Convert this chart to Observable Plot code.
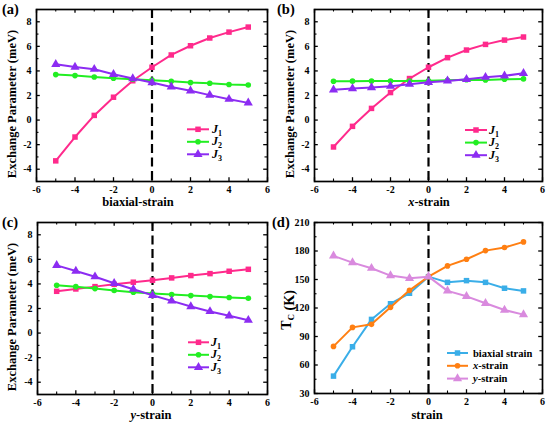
<!DOCTYPE html>
<html>
<head>
<meta charset="utf-8">
<script src="https://cdn.jsdelivr.net/npm/d3@7"></script>
<script src="https://cdn.jsdelivr.net/npm/@observablehq/plot@0.6"></script>
<style>
  html, body { margin: 0; padding: 0; background: #fff; }
  #wrap { position: relative; width: 550px; height: 426px; background: #fff; overflow: hidden; }
  .panel { position: absolute; width: 275px; height: 213px; }
</style>
</head>
<body>
<div id="wrap"></div>
<script>
const FONT = '"Liberation Serif", "Times New Roman", serif';

// ---- data ----
const strain = [-5, -4, -3, -2, -1, 0, 1, 2, 3, 4, 5];

const biaxialJ1 = [-3.32, -1.38, 0.38, 1.86, 3.2, 4.3, 5.3, 6.05, 6.68, 7.16, 7.57];
const biaxialJ2 = [3.7, 3.62, 3.51, 3.4, 3.32, 3.25, 3.16, 3.05, 3.0, 2.9, 2.86];
const biaxialJ3 = [4.54, 4.32, 4.14, 3.73, 3.38, 3.05, 2.7, 2.38, 2.03, 1.7, 1.4];

const xStrainJ1 = [-2.19, -0.51, 0.95, 2.24, 3.38, 4.3, 5.08, 5.7, 6.16, 6.51, 6.76];
const xStrainJ2 = [3.16, 3.17, 3.18, 3.18, 3.18, 3.2, 3.24, 3.28, 3.27, 3.32, 3.35];
const xStrainJ3 = [2.46, 2.57, 2.65, 2.76, 2.92, 3.08, 3.19, 3.32, 3.49, 3.6, 3.81];

const yStrainJ1 = [3.4, 3.59, 3.78, 3.97, 4.14, 4.3, 4.49, 4.68, 4.84, 5.03, 5.19];
const yStrainJ2 = [3.89, 3.78, 3.62, 3.46, 3.32, 3.22, 3.14, 3.05, 2.97, 2.89, 2.84];
const yStrainJ3 = [5.51, 5.05, 4.59, 4.05, 3.57, 3.08, 2.62, 2.16, 1.76, 1.41, 1.05];

const tcBiaxial = [48.3, 79.2, 108, 124.5, 135.5, 153, 147, 148.8, 147, 140.8, 138];
const tcXStrain = [79.6, 99.6, 102.8, 120.7, 138.6, 153, 164.3, 171.3, 180.4, 183.7, 189.6];
const tcYStrain = [174.9, 167.8, 161.9, 154.1, 151.3, 153, 138, 132.3, 125, 117.9, 113];

const xTicks = [-6, -4, -2, 0, 2, 4, 6];
const xMinor = [-5, -3, -1, 1, 3, 5];
const jTicks = [-4, -2, 0, 2, 4, 6, 8];
const jMinor = [-5, -3, -1, 1, 3, 5, 7, 9];
const tcTicks = [30, 60, 90, 120, 150, 180, 210];
const tcMinor = [45, 75, 105, 135, 165, 195];

const jNames = [["J", "1"], ["J", "2"], ["J", "3"]];
const jColors = ["#ff2a8c", "#22ee22", "#8c2cf2"];
const jSymbols = ["square", "circle", "triangle"];
const tcNames = [[["biaxial strain", false]], [["x", true], ["-strain", false]], [["y", true], ["-strain", false]]];
const tcColors = ["#3aaee8", "#ff7f12", "#d98ade"];

function panel(cfg) {
  const W = 275, H = 213;
  const {ml, mr, mt, mb} = cfg;
  const pw = W - ml - mr, ph = H - mt - mb;
  const marks = [];
  const edgeTicks = (xs, ys, len, sw) => [
    Plot.tickX(xs, {x: d => d, insetTop: ph - len, strokeWidth: sw}),
    Plot.tickX(xs, {x: d => d, insetBottom: ph - len, strokeWidth: sw}),
    Plot.tickY(ys, {y: d => d, insetRight: pw - len, strokeWidth: sw}),
    Plot.tickY(ys, {y: d => d, insetLeft: pw - len, strokeWidth: sw})
  ];
  marks.push(...edgeTicks(xTicks, cfg.yTicks, 3.8, 1.3));
  marks.push(...edgeTicks(xMinor, cfg.yMinor, 2.5, 1.1));
  marks.push(Plot.ruleX([0], {strokeDasharray: "9,4.5", strokeWidth: 2.2}));
  cfg.series.forEach((s, k) => {
    const rows = strain.map((x, i) => ({x, y: s.values[i]}));
    marks.push(Plot.line(rows, {x: "x", y: "y", stroke: s.color, strokeWidth: 2}));
    marks.push(Plot.dot(rows, {x: "x", y: "y", symbol: s.symbol, fill: s.color, stroke: "none",
      r: s.symbol === "circle" ? 2.8 : s.symbol === "square" ? 3.1 : 3.4}));
  });
  marks.push(Plot.frame({strokeWidth: 1.7}));
  marks.push(Plot.axisX(xTicks, {anchor: "bottom", tickSize: 0, tickPadding: 4, label: null, tickFormat: d => String(d)}));
  marks.push(Plot.axisY(cfg.yTicks, {anchor: "left", tickSize: 0, tickPadding: 5, label: null, tickFormat: d => String(d)}));

  const chart = Plot.plot({
    width: W, height: H,
    marginLeft: ml, marginRight: mr, marginTop: mt, marginBottom: mb,
    style: {fontFamily: FONT, fontSize: "10px", fontWeight: "bold", color: "#000", background: "transparent", overflow: "visible"},
    x: {domain: [-6, 6]},
    y: {domain: cfg.yDomain},
    marks
  });

  const svg = d3.select(chart).style("overflow", "visible");
  const g = svg.append("g").attr("font-family", FONT).attr("font-weight", "bold")
    .attr("fill", "#000").attr("text-anchor", "start");
  // panel tag
  g.append("text").attr("x", cfg.tagX).attr("y", 14).attr("font-size", 14.5).text(cfg.tag);
  // x label
  const xl = g.append("text").attr("x", cfg.xLabelX).attr("y", 206).attr("text-anchor", "middle").attr("font-size", 12.5);
  cfg.xLabel.forEach(([t, it]) => xl.append("tspan").attr("font-style", it ? "italic" : null).text(t));
  // y label
  const yl = g.append("text").attr("transform", `translate(${cfg.yLabelX},${cfg.yLabelY}) rotate(-90)`)
    .attr("text-anchor", "middle").attr("font-size", cfg.yLabelSize);
  cfg.yLabel.forEach(([t, sub]) => {
    if (sub) {
      yl.append("tspan").attr("dy", 3).attr("font-size", cfg.yLabelSize * 0.65).text(t);
      yl.append("tspan").attr("dy", -3).text("");
    } else yl.append("tspan").text(t);
  });
  // legend
  const L = cfg.legend;
  cfg.series.forEach((s, k) => {
    const y = L.y0 + k * L.dy;
    g.append("line").attr("x1", L.x1).attr("x2", L.x2).attr("y1", y).attr("y2", y)
      .attr("stroke", s.color).attr("stroke-width", 2);
    const sym = {square: d3.symbolSquare, circle: d3.symbolCircle, triangle: d3.symbolTriangle}[s.symbol];
    const rr = s.symbol === "circle" ? 2.8 : s.symbol === "square" ? 3.1 : 3.4;
    g.append("path").attr("transform", `translate(${(L.x1 + L.x2) / 2},${y})`)
      .attr("d", d3.symbol(sym, rr * rr * Math.PI)()).attr("fill", s.color);
    const t = g.append("text").attr("x", L.tx).attr("y", y + L.by).attr("font-size", L.fs);
    s.label(t);
  });
  return chart;
}

function jLabel(k) {
  return t => {
    t.append("tspan").attr("font-style", "italic").text(jNames[k][0]);
    t.append("tspan").attr("dy", 3).attr("font-size", 8).text(jNames[k][1]);
  };
}
function tcLabel(k) {
  return t => tcNames[k].forEach(([s, it]) => t.append("tspan").attr("font-style", it ? "italic" : null).text(s));
}
const jSeries = vals => vals.map((v, k) => ({values: v, color: jColors[k], symbol: jSymbols[k], label: jLabel(k)}));
const exLabel = [["Exchange Parameter (meV)", false]];

const panels = [
  {left: 0, top: 0, ml: 36, mr: 8, mt: 9, mb: 32, tag: "(a)", tagX: 2,
   series: jSeries([biaxialJ1, biaxialJ2, biaxialJ3]), yDomain: [-5, 9], yTicks: jTicks, yMinor: jMinor,
   xLabel: [["biaxial-strain", false]], xLabelX: 138, yLabel: exLabel, yLabelX: 16, yLabelY: 104, yLabelSize: 12.5,
   legend: {x1: 187, x2: 209, tx: 212, y0: 129.3, dy: 12.5, fs: 12, by: 3.5}},
  {left: 275, top: 0, ml: 39, mr: 8, mt: 9, mb: 32, tag: "(b)", tagX: 2,
   series: jSeries([xStrainJ1, xStrainJ2, xStrainJ3]), yDomain: [-5, 9], yTicks: jTicks, yMinor: jMinor,
   xLabel: [["x", true], ["-strain", false]], xLabelX: 154, yLabel: exLabel, yLabelX: 19, yLabelY: 104, yLabelSize: 12.5,
   legend: {x1: 190, x2: 212, tx: 214, y0: 130, dy: 12.6, fs: 12, by: 3.5}},
  {left: 0, top: 213, ml: 37, mr: 8, mt: 9, mb: 32, tag: "(c)", tagX: 2,
   series: jSeries([yStrainJ1, yStrainJ2, yStrainJ3]), yDomain: [-5, 9], yTicks: jTicks, yMinor: jMinor,
   xLabel: [["y", true], ["-strain", false]], xLabelX: 151, yLabel: exLabel, yLabelX: 16, yLabelY: 104, yLabelSize: 12.5,
   legend: {x1: 188, x2: 209, tx: 211, y0: 129.3, dy: 12.5, fs: 12, by: 3.5}},
  {left: 275, top: 213, ml: 39, mr: 8, mt: 9, mb: 33, tag: "(d)", tagX: -3,
   series: [tcBiaxial, tcXStrain, tcYStrain].map((v, k) => ({values: v, color: tcColors[k], symbol: jSymbols[k], label: tcLabel(k)})),
   yDomain: [30, 210], yTicks: tcTicks, yMinor: tcMinor,
   xLabel: [["strain", false]], xLabelX: 152, yLabel: [["T", false], ["C", true], [" (K)", false]], yLabelX: 16, yLabelY: 97, yLabelSize: 14,
   legend: {x1: 172, x2: 193, tx: 198, y0: 140, dy: 12.8, fs: 10.5, by: 3.5}}
];

const wrap = document.getElementById("wrap");
panels.forEach(cfg => {
  const div = document.createElement("div");
  div.className = "panel";
  div.style.left = cfg.left + "px";
  div.style.top = cfg.top + "px";
  div.appendChild(panel(cfg));
  wrap.appendChild(div);
});
</script>
</body>
</html>
